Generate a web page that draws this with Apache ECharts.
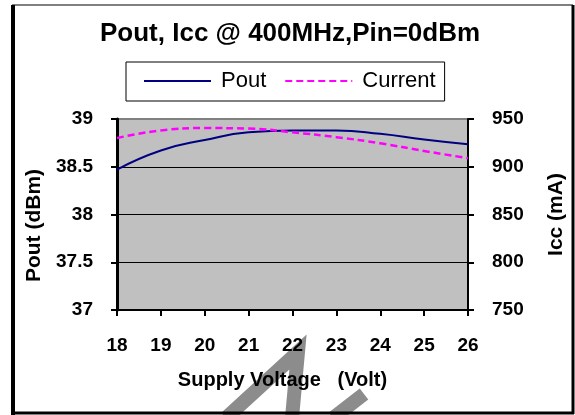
<!DOCTYPE html>
<html>
<head>
<meta charset="utf-8">
<script src="https://cdn.jsdelivr.net/npm/echarts@6/dist/echarts.min.js"></script>
<style>
    html, body { margin: 0; padding: 0; background: #fff; }
    #chart { width: 575px; height: 415px; }
</style>
</head>
<body>
<div id="chart"></div>
<script>
// values
const voltages = [18, 19, 20, 21, 22, 23, 24, 25, 26]
const pout = [38.47, 38.67, 38.78, 38.86, 38.88, 38.88, 38.845, 38.785, 38.735]
const current = [930, 938, 940.5, 940, 936, 931, 924.5, 916.5, 909]
const poutTicks = [37, 37.5, 38, 38.5, 39]
const currentTicks = [750, 800, 850, 900, 950]

const font = "'Liberation Sans', Arial, sans-serif"
const chart = echarts.init(document.getElementById('chart'))

const pairs = (ys) => voltages.map((v, i) => [v, ys[i]])

chart.setOption({
    animation: false,
    backgroundColor: '#fff',
    title: {
        text: 'Pout, Icc @ 400MHz,Pin=0dBm',
        left: 100,
        top: 21,
        padding: 0,
        textStyle: { fontFamily: font, fontSize: 26, fontWeight: 'bold', color: '#000' },
    },
    legend: {
        left: 126,
        top: 62,
        padding: [8, 9, 9, 17],
        backgroundColor: '#fff',
        borderColor: '#000',
        borderWidth: 1,
        borderRadius: 0,
        itemWidth: 67,
        itemHeight: 14,
        itemGap: 18,
        // only the line in the key, no marker dot
        itemStyle: { opacity: 0 },
        textStyle: { fontFamily: font, fontSize: 22, color: '#000', padding: [0, 0, 0, 5] },
        data: ['Pout', 'Current'],
    },
    grid: {
        left: 117,
        right: 102,
        top: 119,
        bottom: 105,
        show: true,
        backgroundColor: '#c0c0c0',
        borderColor: '#808080',
        borderWidth: 2,
    },
    xAxis: {
        type: 'value',
        min: 18,
        max: 26,
        interval: 1,
        name: 'Supply Voltage   (Volt)',
        nameLocation: 'middle',
        nameGap: 60,
        nameTextStyle: { fontFamily: font, fontSize: 20, fontWeight: 'bold', color: '#000', padding: [0, 20, 0, 0] },
        axisLine: { lineStyle: { color: '#000', width: 2 } },
        axisTick: { length: 6, lineStyle: { color: '#000', width: 2 } },
        axisLabel: { fontFamily: font, fontSize: 19, fontWeight: 'bold', color: '#000', margin: 26 },
        splitLine: { show: false },
    },
    yAxis: [
        {
            type: 'value',
            min: poutTicks[0],
            max: poutTicks[poutTicks.length - 1],
            interval: 0.5,
            name: 'Pout (dBm)',
            nameLocation: 'middle',
            nameGap: 63,
            nameTextStyle: { fontFamily: font, fontSize: 21, fontWeight: 'bold', color: '#000', padding: [0, 22, 0, 0] },
            axisLine: { show: true, lineStyle: { color: '#000', width: 3 } },
            axisTick: { show: true, length: 6, lineStyle: { color: '#000', width: 2 } },
            axisLabel: { fontFamily: font, fontSize: 19, fontWeight: 'bold', color: '#000', margin: 24 },
            splitLine: { show: true, showMinLine: false, showMaxLine: false, lineStyle: { color: '#000', width: 1 } },
        },
        {
            type: 'value',
            position: 'right',
            min: currentTicks[0],
            max: currentTicks[currentTicks.length - 1],
            interval: 50,
            name: 'Icc (mA)',
            nameLocation: 'middle',
            nameGap: 78,
            nameTextStyle: { fontFamily: font, fontSize: 21, fontWeight: 'bold', color: '#000' },
            axisLine: { show: true, lineStyle: { color: '#000', width: 2 } },
            axisTick: { show: true, length: 6, lineStyle: { color: '#000', width: 2 } },
            axisLabel: { fontFamily: font, fontSize: 19, fontWeight: 'bold', color: '#000', margin: 24 },
            splitLine: { show: false },
        },
    ],
    series: [
        {
            name: 'Pout',
            type: 'line',
            yAxisIndex: 0,
            data: pairs(pout),
            smooth: true,
            symbol: 'none',
            lineStyle: { color: '#000080', width: 2 },
            itemStyle: { color: '#000080' },
        },
        {
            name: 'Current',
            type: 'line',
            yAxisIndex: 1,
            data: pairs(current),
            smooth: true,
            symbol: 'none',
            lineStyle: { color: '#ff00ff', width: 2.5, type: [7, 4] },
            itemStyle: { color: '#ff00ff' },
        },
    ],
    graphic: [
        // frame round the whole picture
        { type: 'line', shape: { x1: 12, y1: 5, x2: 573, y2: 5 }, style: { stroke: '#808080', lineWidth: 2 } },
        { type: 'line', shape: { x1: 13, y1: 5, x2: 13, y2: 415 }, style: { stroke: '#000', lineWidth: 4 } },
        { type: 'line', shape: { x1: 573, y1: 5, x2: 573, y2: 414 }, style: { stroke: '#000', lineWidth: 3 } },
        { type: 'line', shape: { x1: 12, y1: 413, x2: 574, y2: 413 }, style: { stroke: '#000', lineWidth: 3 } },
        // grey watermark strokes at the bottom
        { type: 'polyline', z: -1, shape: { points: [[226, 418], [298, 352], [292, 418]] }, style: { stroke: '#8c8c8c', lineWidth: 14, fill: null, lineJoin: 'miter' } },
        { type: 'line', z: -1, shape: { x1: 364, y1: 394, x2: 333, y2: 418 }, style: { stroke: '#8c8c8c', lineWidth: 14 } },
    ],
})
</script>
</body>
</html>
